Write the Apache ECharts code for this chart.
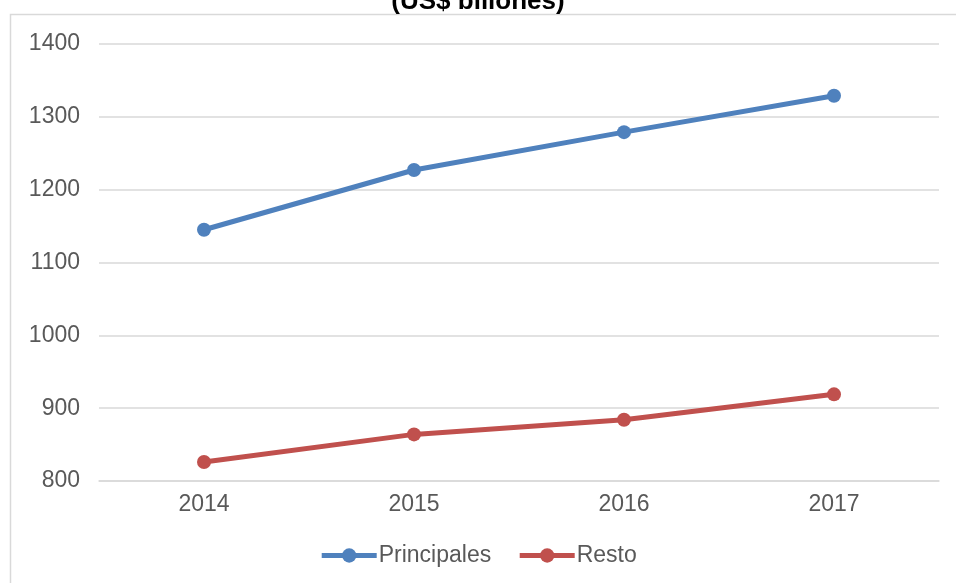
<!DOCTYPE html>
<html>
<head>
<meta charset="utf-8">
<script src="https://cdn.jsdelivr.net/npm/echarts@6/dist/echarts.min.js"></script>
<style>
  html, body { margin: 0; padding: 0; background: #fff; }
  #chart { width: 956px; height: 583px; }
</style>
</head>
<body>
<div id="chart"></div>
<script>
// datos
const years = ['2014', '2015', '2016', '2017']
const principales = [1145, 1227, 1279, 1329]
const resto = [826, 864, 884, 919]

const myChart = echarts.init(document.getElementById('chart'))
const font = 'Liberation Sans'
const option = {
  backgroundColor: '#fff',
  title: {
    text: '(US$ billones)',
    left: 'center',
    top: -16,
    textStyle: { fontFamily: font, fontSize: 26, fontWeight: 'bold', color: '#000' }
  },
  graphic: [{
    type: 'rect',
    shape: { x: 10.5, y: 14.5, width: 1000, height: 1000 },
    style: { fill: null, stroke: '#D9D9D9', lineWidth: 1.5 },
    silent: true
  }],
  grid: { left: 99, right: 17, top: 44, bottom: 102 },
  legend: {
    bottom: 11,
    left: 'center',
    itemWidth: 55,
    itemHeight: 18,
    itemGap: 26,
    lineStyle: { width: 5 },
    textStyle: { fontFamily: font, fontSize: 23, color: '#595959', padding: [0, 0, 0, -3] },
    data: ['Principales', 'Resto']
  },
  xAxis: {
    type: 'category',
    data: years,
    axisLine: { lineStyle: { color: '#D9D9D9', width: 1.5 } },
    axisTick: { show: false },
    axisLabel: { fontFamily: font, fontSize: 23, color: '#595959', margin: 12 }
  },
  yAxis: {
    type: 'value',
    min: 800,
    max: 1400,
    interval: 100,
    axisLine: { show: false },
    axisTick: { show: false },
    splitLine: { lineStyle: { color: '#D9D9D9', width: 1.5 } },
    axisLabel: { fontFamily: font, fontSize: 23, color: '#595959', margin: 19, formatter: v => String(v) }
  },
  series: [
    {
      name: 'Principales',
      type: 'line',
      data: principales,
      symbol: 'circle',
      symbolSize: 14,
      lineStyle: { width: 5, color: '#4F81BD' },
      itemStyle: { color: '#4F81BD' }
    },
    {
      name: 'Resto',
      type: 'line',
      data: resto,
      symbol: 'circle',
      symbolSize: 14,
      lineStyle: { width: 5, color: '#C0504D' },
      itemStyle: { color: '#C0504D' }
    }
  ]
}
myChart.setOption(option)
</script>
</body>
</html>
